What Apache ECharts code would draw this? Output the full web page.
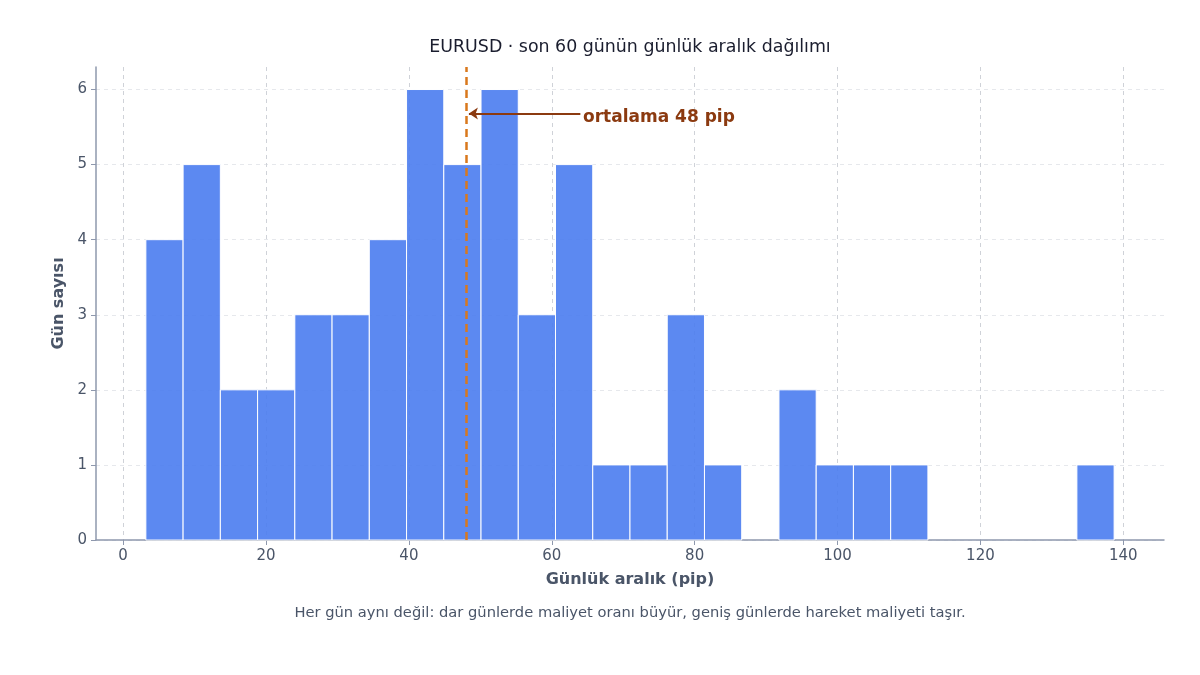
<!DOCTYPE html>
<html>
<head>
<meta charset="UTF-8">
<title>EURUSD günlük aralık</title>
<style>
	* { margin: 0; padding: 0; }
	html, body { width: 100%; height: 100%; background: #fff; overflow: hidden; }
	#chart { width: 1200px; height: 675px; }
</style>
</head>
<body>
<div id="chart"></div>
<script src="https://cdn.jsdelivr.net/npm/echarts@6/dist/echarts.min.js"></script>
<script>
	// histogram bins (pip): first edge and bin width, counts per bin
	var binStart = 3.18;
	var binWidth = 5.213;
	var binCounts = [4, 5, 2, 2, 3, 3, 4, 6, 5, 6, 3, 5, 1, 1, 3, 1, 0, 2, 1, 1, 1, 0, 0, 0, 0, 1];
	var xTicks = [0, 20, 40, 60, 80, 100, 120, 140];
	var yTicks = [0, 1, 2, 3, 4, 5, 6];
	var meanPip = 48;
	var arrowFrom = [64.0, 5.68];
	var arrowTo = [48.4, 5.68];
	var noteAt = [64.3, 5.63];

	var bins = [];
	binCounts.forEach(function (c, i) {
		if (c > 0) {
			bins.push([binStart + i * binWidth, binStart + (i + 1) * binWidth, c]);
		}
	});

	var font = 'DejaVu Sans';
	var inkColor = '#4a5568';
	var axisColor = '#8e98ad';

	var chart = echarts.init(document.getElementById('chart'));
	chart.setOption({
		animation: false,
		textStyle: { fontFamily: font },
		title: [{
			text: 'EURUSD · son 60 günün günlük aralık dağılımı',
			left: 625, top: 34, textAlign: 'center',
			textStyle: { fontFamily: font, fontSize: 17.4, fontWeight: 'normal', color: '#1a1d2e' }
		}, {
			text: 'Her gün aynı değil: dar günlerde maliyet oranı büyür, geniş günlerde hareket maliyeti taşır.',
			left: 625, top: 601, textAlign: 'center',
			textStyle: { fontFamily: font, fontSize: 14.7, fontWeight: 'normal', color: inkColor }
		}],
		grid: { left: 96, right: 36, top: 67, bottom: 135 },
		xAxis: {
			type: 'value',
			min: -3.8, max: 145.7,
			name: 'Günlük aralık (pip)',
			nameLocation: 'middle', nameGap: 32,
			nameTextStyle: { fontFamily: font, fontSize: 16, fontWeight: 'bold', color: inkColor },
			axisLine: { show: true, onZero: false, lineStyle: { color: axisColor, width: 1.5 } },
			axisTick: { show: true, customValues: xTicks, length: 5, lineStyle: { color: axisColor } },
			axisLabel: { customValues: xTicks, fontFamily: font, fontSize: 15, color: inkColor, margin: 9 },
			splitLine: { show: true, lineStyle: { color: '#cfd2d8', type: [4, 4], width: 1 } }
		},
		yAxis: {
			type: 'value',
			min: 0, max: 6.3,
			name: 'Gün sayısı',
			nameLocation: 'middle', nameGap: 26,
			nameTextStyle: { fontFamily: font, fontSize: 16, fontWeight: 'bold', color: inkColor },
			axisLine: { show: true, onZero: false, lineStyle: { color: axisColor, width: 1.5 } },
			axisTick: { show: true, customValues: yTicks, length: 5, lineStyle: { color: axisColor } },
			axisLabel: { customValues: yTicks, fontFamily: font, fontSize: 15, color: inkColor, margin: 9 },
			splitLine: { show: true, lineStyle: { color: '#e6e8ec', type: [4, 4], width: 1 } }
		},
		series: [{
			type: 'custom',
			data: bins,
			encode: { x: [0, 1], y: 2 },
			z: 2,
			renderItem: function (params, api) {
				var top = api.coord([api.value(0), api.value(2)]);
				var bottom = api.coord([api.value(1), 0]);
				return {
					type: 'rect',
					shape: { x: top[0], y: top[1], width: bottom[0] - top[0], height: bottom[1] - top[1] },
					style: { fill: 'rgba(74,124,240,0.9)', stroke: '#ffffff', lineWidth: 1 }
				};
			}
		}, {
			type: 'line',
			data: [],
			z: 5,
			markLine: {
				silent: true,
				symbol: 'none',
				label: { show: false },
				lineStyle: { color: '#d9781c', type: [8, 5], width: 2.5 },
				data: [{ xAxis: meanPip }]
			}
		}, {
			type: 'line',
			data: [],
			z: 6,
			markLine: {
				silent: true,
				symbol: ['none', 'arrow'],
				symbolSize: 9,
				label: { show: false },
				lineStyle: { color: '#8b3a10', type: 'solid', width: 2 },
				data: [[{ coord: arrowFrom }, { coord: arrowTo }]]
			},
			markPoint: {
				silent: true,
				symbol: 'circle',
				symbolSize: 1,
				itemStyle: { color: 'rgba(0,0,0,0)' },
				label: {
					show: true, position: 'right', distance: 0,
					formatter: 'ortalama 48 pip',
					fontFamily: font, fontSize: 17, fontWeight: 'bold', color: '#8b3a10'
				},
				data: [{ coord: noteAt }]
			}
		}]
	});
</script>
</body>
</html>
